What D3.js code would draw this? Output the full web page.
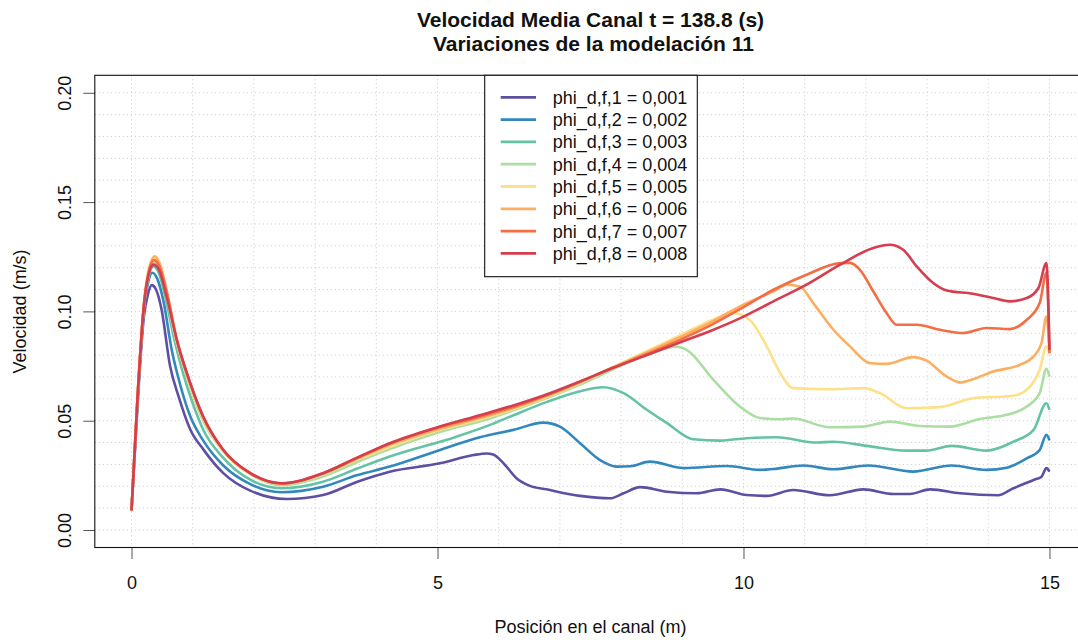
<!DOCTYPE html>
<html>
<head>
<meta charset="utf-8">
<script src="https://cdn.jsdelivr.net/npm/d3@7/dist/d3.min.js"></script>
<style>
  html, body { margin: 0; padding: 0; background: #fff; }
  svg { display: block; font-family: "Liberation Sans", Arial, Helvetica, sans-serif; }
  text { white-space: pre; }
</style>
</head>
<body>
<svg id="chart" width="1078" height="640"></svg>
<script>
// Velocity profiles along the channel, [position (m), velocity (m/s)]
const phi1 = [[0,0.009],[0.1,0.058],[0.2,0.097],[0.27,0.108],[0.33,0.112],[0.4,0.110],[0.49,0.101],[0.63,0.075],[0.77,0.061],[0.96,0.046],[1.17,0.037],[1.5,0.026],[1.94,0.018],[2.54,0.0142],[3.13,0.016],[3.68,0.022],[4.22,0.0267],[5.04,0.0305],[5.59,0.0343],[5.8,0.035],[5.91,0.0345],[6.08,0.0305],[6.29,0.0237],[6.51,0.0202],[6.78,0.0186],[7.33,0.0156],[7.82,0.0145],[8.04,0.0168],[8.31,0.0196],[8.75,0.0175],[9.24,0.0168],[9.62,0.0186],[10.05,0.016],[10.38,0.0156],[10.81,0.0183],[11.41,0.0159],[11.96,0.0186],[12.45,0.0165],[12.72,0.0165],[13.05,0.0186],[13.54,0.0168],[14.16,0.0159],[14.41,0.0191],[14.74,0.0229],[14.87,0.0244],[14.95,0.0283],[15.0,0.0267]];
const phi2 = [[0,0.009],[0.1,0.06],[0.2,0.1],[0.27,0.113],[0.34,0.1177],[0.42,0.115],[0.52,0.105],[0.66,0.082],[0.8,0.066],[0.96,0.052],[1.17,0.041],[1.5,0.0295],[1.94,0.021],[2.45,0.0173],[3.13,0.0198],[3.68,0.025],[4.22,0.029],[5.04,0.0366],[5.69,0.0424],[6.24,0.0458],[6.73,0.0491],[7.0,0.0473],[7.33,0.0397],[7.65,0.0321],[7.93,0.029],[8.15,0.0292],[8.47,0.0313],[9.02,0.0283],[9.73,0.0293],[10.27,0.0275],[10.49,0.0279],[10.98,0.0295],[11.47,0.0278],[12.04,0.0295],[12.77,0.0267],[13.4,0.0295],[13.97,0.0275],[14.3,0.0285],[14.63,0.0328],[14.84,0.0366],[14.95,0.0435],[15.0,0.041]];
const phi3 = [[0,0.009],[0.1,0.061],[0.2,0.101],[0.28,0.116],[0.36,0.1206],[0.44,0.118],[0.55,0.107],[0.7,0.087],[0.85,0.071],[1.0,0.058],[1.17,0.046],[1.5,0.033],[1.94,0.023],[2.45,0.0191],[3.13,0.0221],[3.68,0.028],[4.22,0.0336],[5.31,0.0427],[5.86,0.0481],[6.24,0.0525],[6.78,0.0585],[7.33,0.0635],[7.71,0.0653],[8.04,0.0626],[8.42,0.055],[8.75,0.0489],[9.18,0.0415],[9.62,0.0409],[10.05,0.042],[10.54,0.0424],[11.2,0.040],[11.47,0.0404],[12.01,0.0385],[12.67,0.0363],[12.99,0.0363],[13.4,0.0385],[13.97,0.0363],[14.41,0.0404],[14.74,0.0458],[14.95,0.058],[15.0,0.055]];
const phi4 = [[0,0.009],[0.1,0.062],[0.2,0.102],[0.29,0.118],[0.37,0.1225],[0.45,0.12],[0.56,0.109],[0.7,0.09],[0.85,0.075],[1.0,0.062],[1.17,0.05],[1.5,0.036],[1.94,0.0255],[2.45,0.0205],[3.13,0.0245],[3.68,0.031],[4.22,0.037],[5.31,0.047],[5.69,0.0496],[6.24,0.0548],[6.78,0.0603],[7.33,0.0665],[7.87,0.0735],[8.42,0.0800],[8.91,0.0838],[9.07,0.0824],[9.51,0.0687],[9.94,0.0565],[10.27,0.0512],[10.6,0.0507],[10.81,0.051],[11.41,0.047],[11.96,0.0473],[12.39,0.0496],[12.88,0.0476],[13.37,0.0473],[13.86,0.0508],[14.3,0.0527],[14.63,0.0565],[14.84,0.0626],[14.95,0.0737],[15.0,0.0702]];
const phi5 = [[0,0.009],[0.1,0.062],[0.2,0.102],[0.29,0.119],[0.37,0.124],[0.45,0.121],[0.57,0.108],[0.74,0.086],[0.96,0.066],[1.17,0.051],[1.5,0.036],[1.94,0.0257],[2.45,0.0211],[3.13,0.0255],[3.68,0.032],[4.22,0.038],[5.0,0.0455],[5.69,0.0505],[6.24,0.0553],[6.78,0.0607],[7.33,0.0672],[7.87,0.0745],[8.42,0.0818],[8.96,0.089],[9.5,0.0962],[9.83,0.0993],[10.1,0.0962],[10.38,0.084],[10.6,0.0718],[10.81,0.0649],[11.36,0.0644],[11.96,0.0649],[12.23,0.0626],[12.67,0.0557],[13.21,0.0562],[13.75,0.0603],[14.41,0.0614],[14.68,0.0656],[14.84,0.0733],[14.95,0.084],[15.0,0.0805]];
const phi6 = [[0,0.009],[0.1,0.062],[0.2,0.103],[0.29,0.12],[0.38,0.1252],[0.46,0.122],[0.58,0.109],[0.74,0.087],[0.96,0.067],[1.17,0.0515],[1.5,0.0365],[1.94,0.026],[2.45,0.0212],[3.13,0.0258],[3.68,0.0325],[4.22,0.039],[5.0,0.046],[5.69,0.0512],[6.24,0.0558],[6.78,0.0612],[7.33,0.0676],[7.87,0.0745],[8.42,0.0812],[8.96,0.0882],[9.5,0.0955],[9.94,0.1023],[10.49,0.1092],[10.71,0.1122],[10.92,0.1114],[11.14,0.1038],[11.47,0.0916],[11.74,0.084],[12.07,0.0763],[12.34,0.076],[12.77,0.0791],[12.99,0.0775],[13.32,0.0702],[13.54,0.0675],[13.75,0.069],[14.08,0.0725],[14.52,0.0756],[14.74,0.0794],[14.87,0.0855],[14.95,0.0977],[15.0,0.081]];
const phi7 = [[0,0.009],[0.1,0.062],[0.2,0.102],[0.29,0.119],[0.37,0.1235],[0.45,0.121],[0.58,0.108],[0.74,0.087],[0.96,0.067],[1.17,0.052],[1.5,0.0366],[1.94,0.026],[2.45,0.0213],[3.13,0.026],[3.68,0.033],[4.22,0.0395],[5.0,0.0468],[5.69,0.0518],[6.24,0.0563],[6.78,0.0616],[7.33,0.0678],[7.87,0.0742],[8.42,0.0805],[8.96,0.087],[9.5,0.0942],[9.94,0.101],[10.49,0.1099],[11.03,0.1168],[11.58,0.1221],[11.74,0.1222],[11.9,0.1191],[12.12,0.1092],[12.34,0.0992],[12.5,0.0939],[12.83,0.0939],[13.21,0.0916],[13.59,0.0901],[13.97,0.0924],[14.35,0.0919],[14.63,0.0962],[14.84,0.1038],[14.95,0.1176],[15.0,0.081]];
const phi8 = [[0,0.009],[0.1,0.061],[0.2,0.102],[0.29,0.118],[0.36,0.1214],[0.45,0.119],[0.58,0.106],[0.74,0.087],[0.96,0.0672],[1.17,0.0519],[1.5,0.0366],[1.94,0.026],[2.45,0.0214],[3.13,0.026],[3.68,0.033],[4.22,0.0397],[5.0,0.047],[5.69,0.0525],[6.24,0.057],[6.78,0.062],[7.33,0.068],[7.87,0.0742],[8.42,0.080],[9.0,0.0862],[9.5,0.0915],[9.94,0.0968],[10.49,0.1046],[11.03,0.1122],[11.58,0.1214],[12.12,0.129],[12.39,0.1305],[12.61,0.1282],[12.83,0.1206],[13.1,0.113],[13.32,0.1096],[13.75,0.1081],[14.08,0.1061],[14.35,0.1046],[14.63,0.1061],[14.82,0.1107],[14.95,0.1221],[15.0,0.0824]];

const seriesData = [phi1, phi2, phi3, phi4, phi5, phi6, phi7, phi8];
const seriesLabels = ["phi_d,f,1 = 0,001", "phi_d,f,2 = 0,002", "phi_d,f,3 = 0,003", "phi_d,f,4 = 0,004",
                      "phi_d,f,5 = 0,005", "phi_d,f,6 = 0,006", "phi_d,f,7 = 0,007", "phi_d,f,8 = 0,008"];
const seriesColors = ["#5E4FA2", "#3288BD", "#66C2A5", "#ABDDA4", "#FEE08B", "#FDAE61", "#F46D43", "#D53E4F"];

const xTicks = [0, 5, 10, 15];
const yTicks = [0.00, 0.05, 0.10, 0.15, 0.20];
const xGrid = d3.range(0, 16, 1);
const yGrid = d3.range(0, 0.2001, 0.01);

const titleLines = ["Velocidad Media Canal t = 138.8 (s)", " Variaciones de la modelación 11"];
const xTitle = "Posición en el canal (m)";
const yTitle = "Velocidad (m/s)";

// Plot region
const plotLeft = 94.8, plotRight = 1086.2, plotTop = 75.3, plotBottom = 547.5;
const svg = d3.select("#chart");

const x = d3.scaleLinear().domain([-0.6, 15.6]).range([plotLeft, plotRight]);
const y = d3.scaleLinear().domain([-0.008, 0.208]).range([plotBottom, plotTop]);

// Dotted grid
const grid = svg.append("g").attr("stroke", "#c8c8c8").attr("stroke-width", 1).attr("stroke-dasharray", "1,3");
grid.selectAll("line.v").data(xGrid).join("line").attr("class", "v")
  .attr("x1", d => x(d)).attr("x2", d => x(d)).attr("y1", plotTop).attr("y2", plotBottom);
grid.selectAll("line.h").data(yGrid).join("line").attr("class", "h")
  .attr("x1", plotLeft).attr("x2", plotRight).attr("y1", d => y(d)).attr("y2", d => y(d));

// Curves
const line = d3.line().x(d => x(d[0])).y(d => y(d[1])).curve(d3.curveMonotoneX);
svg.append("g").attr("fill", "none").attr("stroke-width", 2.6).attr("stroke-linejoin", "round")
  .selectAll("path").data(seriesData).join("path")
  .attr("stroke", (d, i) => seriesColors[i])
  .attr("d", line);

// Axes
const fmt = d3.format(".2f");
const xAxis = svg.append("g").attr("transform", `translate(0,${plotBottom})`)
  .call(d3.axisBottom(x).tickValues(xTicks).tickSize(11.5).tickPadding(17.5).tickFormat(d3.format("d")));
const yAxis = svg.append("g").attr("transform", `translate(${plotLeft},0)`)
  .call(d3.axisLeft(y).tickValues(yTicks).tickSize(11.5).tickFormat(fmt));
[xAxis, yAxis].forEach(g => {
  g.select(".domain").remove();
  g.selectAll(".tick line").attr("stroke", "#555");
  g.selectAll(".tick text").attr("fill", "#111").style("font-size", "18px")
    .style("font-family", "'Liberation Sans', Arial, sans-serif");
});
yAxis.selectAll(".tick text")
  .attr("x", null).attr("dy", null)
  .attr("text-anchor", "middle")
  .attr("transform", "translate(-24.3,0) rotate(-90)");

// Plot box
svg.append("rect").attr("x", plotLeft).attr("y", plotTop)
  .attr("width", plotRight - plotLeft).attr("height", plotBottom - plotTop)
  .attr("fill", "none").attr("stroke", "#111").attr("stroke-width", 1.1);

// Legend
const lg = svg.append("g");
const lgX = 484.7, lgY = plotTop, lgW = 212.6, lgH = 201.4, rowH = 22.3, row0 = 97.3;
lg.append("rect").attr("x", lgX).attr("y", lgY).attr("width", lgW).attr("height", lgH)
  .attr("fill", "#fff").attr("stroke", "#111").attr("stroke-width", 1.1);
const rows = lg.selectAll("g.row").data(seriesLabels).join("g").attr("class", "row")
  .attr("transform", (d, i) => `translate(0,${row0 + i * rowH})`);
rows.append("line").attr("x1", 500.7).attr("x2", 536).attr("y1", 0).attr("y2", 0)
  .attr("stroke", (d, i) => seriesColors[i]).attr("stroke-width", 2.8);
rows.append("text").attr("x", 552.7).attr("y", 6.4).text(d => d)
  .attr("fill", "#111").style("font-size", "18px");

// Titles
const cx = (plotLeft + plotRight) / 2;
svg.append("g").selectAll("text").data(titleLines).join("text")
  .attr("x", cx).attr("y", (d, i) => 27.2 + i * 24)
  .attr("text-anchor", "middle").style("font-size", "21px").style("font-weight", "bold")
  .attr("fill", "#111").text(d => d);
svg.append("text").attr("x", cx).attr("y", 633).attr("text-anchor", "middle")
  .style("font-size", "18px").attr("fill", "#111").text(xTitle);
svg.append("text").attr("transform", `translate(26,${(plotTop + plotBottom) / 2}) rotate(-90)`)
  .attr("text-anchor", "middle").style("font-size", "18px").attr("fill", "#111").text(yTitle);
</script>
</body>
</html>
